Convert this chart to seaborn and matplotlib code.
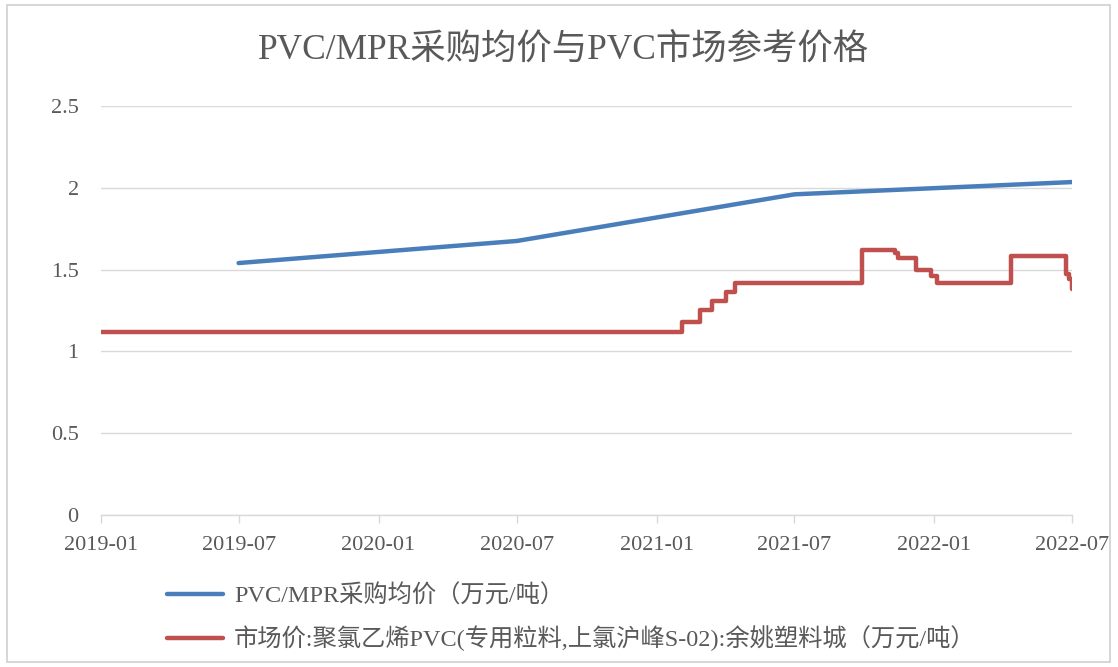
import pandas as pd
import matplotlib.pyplot as plt
import matplotlib.dates as mdates
from matplotlib.patches import Rectangle
import seaborn as sns

# PVC/MPR average purchase price (half-yearly)
mpr_dates = ["2019-07-01", "2020-07-01", "2021-07-01", "2022-07-01"]
mpr_values = [1.54, 1.675, 1.96, 2.035]

# Market price, step changes (value holds until next date)
mkt_dates = ["2019-01-01", "2021-02-03", "2021-02-27", "2021-03-14", "2021-04-02",
             "2021-04-14", "2021-09-28", "2021-11-10", "2021-11-14", "2021-12-08",
             "2021-12-28", "2022-01-05", "2022-04-12", "2022-06-23", "2022-06-27",
             "2022-07-01"]
mkt_values = [1.12, 1.18, 1.25, 1.31, 1.36,
              1.42, 1.62, 1.60, 1.57, 1.50,
              1.46, 1.42, 1.58, 1.47, 1.44,
              1.38]

label_mpr = "PVC/MPR采购均价（万元/吨）"
label_mkt = "市场价:聚氯乙烯PVC(专用粒料,上氯沪峰S-02):余姚塑料城（万元/吨）"
title = "PVC/MPR采购均价与PVC市场参考价格"

df_mpr = pd.DataFrame({"date": pd.to_datetime(mpr_dates), "value": mpr_values})
df_mkt = pd.DataFrame({"date": pd.to_datetime(mkt_dates), "value": mkt_values})

sns.set_theme(style="white")
plt.rcParams['font.family'] = ['Liberation Serif', 'Noto Sans CJK SC', 'DejaVu Sans']

text_color = "#595959"
grid_color = "#d9d9d9"

fig = plt.figure(figsize=(11.18, 6.67), dpi=100)
ax = fig.add_axes([0.0903, 0.2279, 0.8686, 0.6132])

sns.lineplot(data=df_mpr, x="date", y="value", ax=ax, color="#4A7EBB",
             linewidth=3.2, label=label_mpr)
sns.lineplot(data=df_mkt, x="date", y="value", ax=ax, color="#C0504D",
             linewidth=3.2, label=label_mkt, drawstyle="steps-post")

ax.set_xlim(pd.Timestamp("2019-01-01"), pd.Timestamp("2022-07-01"))
ax.set_ylim(0, 2.5)
ax.set_yticks([0, 0.5, 1, 1.5, 2, 2.5])
ax.set_yticklabels(["0", "0.5", "1", "1.5", "2", "2.5"])
ax.xaxis.set_major_locator(mdates.MonthLocator(bymonth=[1, 7]))
ax.xaxis.set_major_formatter(mdates.DateFormatter("%Y-%m"))
ax.set_xlabel("")
ax.set_ylabel("")

ax.grid(axis="y", color=grid_color, linewidth=1)
ax.grid(axis="x", visible=False)
for side in ["top", "left", "right"]:
    ax.spines[side].set_visible(False)
ax.spines["bottom"].set_color(grid_color)
ax.spines["bottom"].set_linewidth(1)

ax.tick_params(axis="x", which="major", direction="out", length=6, width=1,
               color=grid_color, labelsize=16, labelcolor=text_color, pad=9, bottom=True)
ax.tick_params(axis="y", length=0, labelsize=16, labelcolor=text_color, pad=16)

ax.legend_.remove()
handles, labels = ax.get_legend_handles_labels()
leg = fig.legend(handles, labels, loc="upper left", bbox_to_anchor=(0.130, 0.157),
                 frameon=False, fontsize=17.5, handlelength=2.3, labelspacing=0.74,
                 handletextpad=0.45)
for t in leg.get_texts():
    t.set_color(text_color)

fig.text(0.504, 0.925, title, ha="center", va="center", fontsize=25.5, color=text_color)

# outer chart frame
fig.patches.append(Rectangle((0.006, 0.008), 0.987, 0.985, transform=fig.transFigure,
                             fill=False, edgecolor="#d0d0d0", linewidth=1.2))

fig.savefig("out.png", dpi=100)
